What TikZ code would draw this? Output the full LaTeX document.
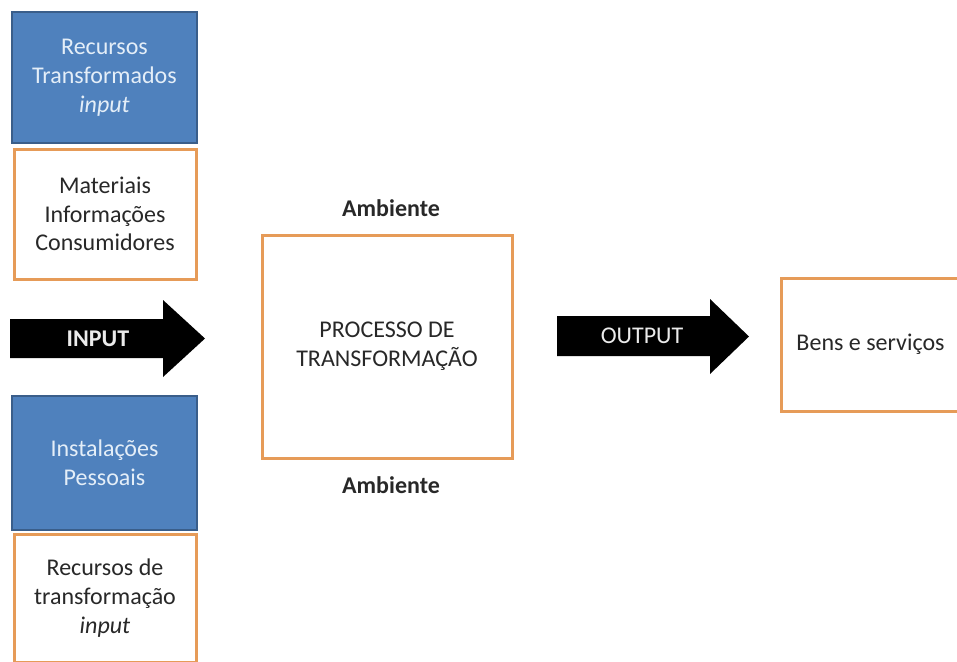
\documentclass[tikz,border=0pt]{standalone}
\usepackage{fontspec}
\setmainfont{Carlito}
\usetikzlibrary{positioning}
\definecolor{boxblue}{RGB}{79,129,189}
\definecolor{blueline}{RGB}{58,94,138}
\definecolor{boxorange}{RGB}{230,155,88}
\definecolor{darktxt}{RGB}{40,40,40}
\definecolor{lighttxt}{RGB}{228,238,248}

\begin{document}
\begin{tikzpicture}[x=.5pt,y=-.5pt,font=\fontsize{12}{14.4}\selectfont,
  bluebox/.style={draw=blueline,line width=1pt,fill=boxblue,text=lighttxt,align=center,minimum width=92.5pt,inner sep=0pt},
  orangebox/.style={draw=boxorange,line width=1.5pt,fill=white,text=darktxt,align=center,inner sep=0pt},
  arrowtxt/.style={text=white!92!black,inner sep=0pt}]
\useasboundingbox (0,0) rectangle (957,661);
% resources, left column
\node[bluebox,minimum height=65.5pt] (recTrans) at (104.5,77.5) {Recursos\\Transformados\\\textit{input}};
\node[orangebox,minimum width=91pt,minimum height=65pt] (matInfo) at (105,214) {Materiais\\Informações\\Consumidores};
\node[bluebox,minimum height=67pt] (instPess) at (104.5,463) {Instalações\\Pessoais};
\node[orangebox,minimum width=91pt,minimum height=64pt] (recTransf) at (105,598) {Recursos de\\transformação\\\textit{input}};
% input arrow
\fill[black] (10,319)--(163,319)--(163,300)--(205,338.5)--(163,377)--(163,358)--(10,358)--cycle;
\node[arrowtxt] (inTxt) at (98,338.5) {\textbf{INPUT}};
% process
\node[orangebox,minimum width=125pt,minimum height=111.5pt] (proc) at (387,346.5) {PROCESSO DE\\TRANSFORMAÇÃO};
\node[font=\fontsize{12}{14.4}\selectfont\bfseries,text=darktxt] (ambTop) at (391,208) {Ambiente};
\node[font=\fontsize{12}{14.4}\selectfont\bfseries,text=darktxt] (ambBot) at (391,485) {Ambiente};
% output arrow
\fill[black] (557,316)--(710,316)--(710,299)--(749,336.5)--(710,374)--(710,356)--(557,356)--cycle;
\node[arrowtxt] (outTxt) at (642,336) {OUTPUT};
\node[orangebox,minimum width=89.5pt,minimum height=66.5pt] (bens) at (870.5,344.5) {Bens e serviços};
\end{tikzpicture}
\end{document}
